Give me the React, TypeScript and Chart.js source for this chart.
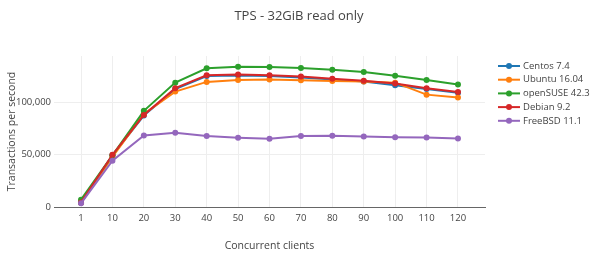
import React, { useEffect, useRef } from "react";
import { Chart, registerables } from "chart.js";

Chart.register(...registerables);

const categories = ["1", "10", "20", "30", "40", "50", "60", "70", "80", "90", "100", "110", "120"];
const centos = [4000, 49500, 87600, 113000, 125400, 126000, 125400, 124100, 122100, 120200, 116600, 113000, 109500];
const ubuntu = [4000, 48000, 89000, 110500, 119800, 121700, 122000, 121400, 120700, 120100, 119100, 107600, 104800];
const opensuse = [7000, 49500, 92100, 119100, 132900, 134400, 134100, 133200, 131500, 129300, 125800, 121700, 117200];
const debian = [4400, 50000, 88200, 113800, 126200, 126800, 126200, 124900, 122900, 121000, 118200, 113800, 110200];
const freebsd = [3500, 44300, 68500, 71000, 67900, 66300, 65300, 67900, 68200, 67500, 66900, 66500, 65600];

const seriesNames = ["Centos 7.4", "Ubuntu 16.04", "openSUSE 42.3", "Debian 9.2", "FreeBSD 11.1"];
const seriesValues = [centos, ubuntu, opensuse, debian, freebsd];
const seriesColors = ["#1f77b4", "#ff7f0e", "#2ca02c", "#d62728", "#9467bd"];

const titleText = "TPS - 32GiB read only";
const xTitle = "Concurrent clients";
const yTitle = "Transactions per second";
const yTickValues = [0, 50000, 100000];

const FONT = "'Open Sans', 'DejaVu Sans', sans-serif";
const TEXT = "#444";

const decorPlugin = {
  id: "decor",
  afterDraw(chart: any) {
    const ctx = chart.ctx as CanvasRenderingContext2D;
    const area = chart.chartArea;
    ctx.save();
    ctx.fillStyle = TEXT;
    ctx.textAlign = "center";
    ctx.textBaseline = "middle";
    ctx.font = `13px ${FONT}`;
    ctx.fillText(titleText, 299, 16);
    ctx.font = `10.5px ${FONT}`;
    ctx.fillText(xTitle, (area.left + area.right) / 2, 246);
    ctx.save();
    ctx.translate(12, (area.top + area.bottom) / 2);
    ctx.rotate(-Math.PI / 2);
    ctx.fillText(yTitle, 0, 0);
    ctx.restore();
    // legend
    ctx.font = `9.5px ${FONT}`;
    ctx.textAlign = "left";
    chart.data.datasets.forEach((ds: any, i: number) => {
      const y = 66 + i * 13.7;
      ctx.strokeStyle = ds.borderColor;
      ctx.lineWidth = 2;
      ctx.beginPath();
      ctx.moveTo(498, y);
      ctx.lineTo(520, y);
      ctx.stroke();
      ctx.fillStyle = ds.borderColor;
      ctx.beginPath();
      ctx.arc(509, y, 3, 0, Math.PI * 2);
      ctx.fill();
      ctx.fillStyle = TEXT;
      ctx.fillText(ds.label, 523, y);
    });
    ctx.restore();
  },
};

export default function App() {
  const ref = useRef<HTMLCanvasElement | null>(null);
  useEffect(() => {
    if (!ref.current) return;
    const chart = new Chart(ref.current, {
      type: "line",
      data: {
        datasets: seriesNames.map((name, i) => ({
          label: name,
          data: seriesValues[i].map((v, j) => ({ x: j, y: v })),
          borderColor: seriesColors[i],
          backgroundColor: seriesColors[i],
          pointBackgroundColor: seriesColors[i],
          pointBorderColor: seriesColors[i],
          borderWidth: 2,
          pointRadius: 3,
          pointBorderWidth: 0,
          tension: 0,
          order: seriesNames.length - i,
        })),
      },
      options: {
        responsive: false,
        animation: false,
        layout: { padding: { left: 0, right: 115, top: 56, bottom: 0 } },
        plugins: {
          legend: { display: false },
          title: { display: false },
          tooltip: { enabled: false },
        },
        scales: {
          x: {
            type: "linear",
            min: -0.86,
            max: 12.86,
            afterBuildTicks(scale: any) {
              scale.ticks = categories.map((_, i) => ({ value: i }));
            },
            afterFit(scale: any) {
              scale.height = 52;
            },
            grid: { color: "#eee", drawTicks: false },
            border: { display: true, color: "#666", width: 1 },
            ticks: {
              padding: 6,
              color: TEXT,
              font: { family: FONT, size: 9.5 },
              maxRotation: 0,
              autoSkip: false,
              callback: (v: any) => categories[v as number] ?? "",
            },
          },
          y: {
            min: 0,
            max: 144600,
            afterBuildTicks(scale: any) {
              scale.ticks = yTickValues.map((v) => ({ value: v }));
            },
            afterFit(scale: any) {
              scale.width = 54;
            },
            grid: { color: "#eee", drawTicks: false },
            border: { display: false },
            ticks: {
              padding: 3,
              color: TEXT,
              font: { family: FONT, size: 9.5 },
              callback: (v: any) => Number(v).toLocaleString("en-US"),
            },
          },
        },
      },
      plugins: [decorPlugin],
    });
    return () => chart.destroy();
  }, []);
  return (
    <div style={{ position: "fixed", left: 0, top: 0, width: 600, height: 259, background: "#fff" }}>
      <canvas ref={ref} width={600} height={259} style={{ display: "block" }} />
    </div>
  );
}
